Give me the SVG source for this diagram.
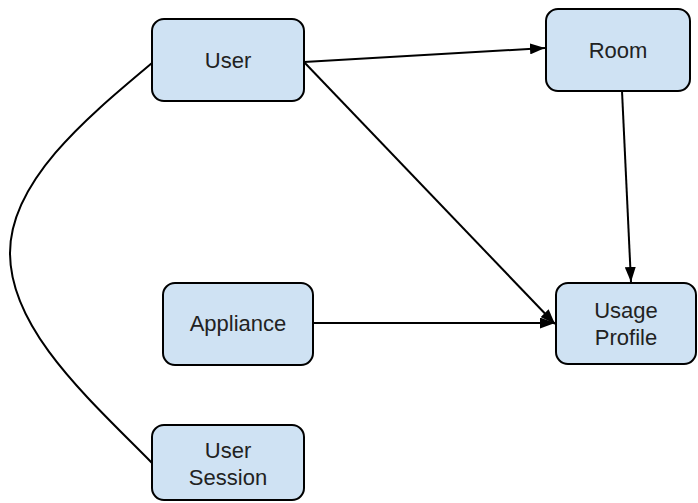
<svg xmlns="http://www.w3.org/2000/svg" width="698" height="503" viewBox="0 0 698 503">
<style>
.node rect{fill:#cfe2f3;stroke:#000;stroke-width:2}
.node text{font-family:"Liberation Sans",Arial,sans-serif;font-size:22px;fill:#222;text-anchor:middle}
.edges path{fill:none;stroke:#000;stroke-width:2}
</style>
<defs>
<marker id="arr" viewBox="0 0 15 11" refX="15" refY="5.5" markerWidth="15" markerHeight="11" orient="auto" markerUnits="userSpaceOnUse">
<path d="M0,0 L15,5.5 L0,11 z" fill="#000"/>
</marker>
</defs>
<rect width="698" height="503" fill="#fff"/>
<g class="edges">
<path d="M304,62 L545,48" marker-end="url(#arr)"/>
<path d="M304,62 L555,324" marker-end="url(#arr)"/>
<path d="M313,323 L555,323" marker-end="url(#arr)"/>
<path d="M622,91 L631,282" marker-end="url(#arr)"/>
<path d="M152,63 C90,115 10,180 10,253 C10,330 90,400 152,463"/>
</g>
<g id="user" class="node"><rect x="152" y="19" width="152" height="82" rx="12"/><text x="228" y="68">User</text></g>
<g id="room" class="node"><rect x="546" y="9" width="144" height="82" rx="12"/><text x="618" y="58">Room</text></g>
<g id="appliance" class="node"><rect x="163" y="283" width="150" height="82" rx="12"/><text x="238" y="331">Appliance</text></g>
<g id="usage-profile" class="node"><rect x="556" y="283" width="140" height="81" rx="12"/><text x="626" y="318">Usage</text><text x="626" y="345">Profile</text></g>
<g id="user-session" class="node"><rect x="152" y="425" width="152" height="75" rx="12"/><text x="228" y="458">User</text><text x="228" y="485">Session</text></g>
</svg>
